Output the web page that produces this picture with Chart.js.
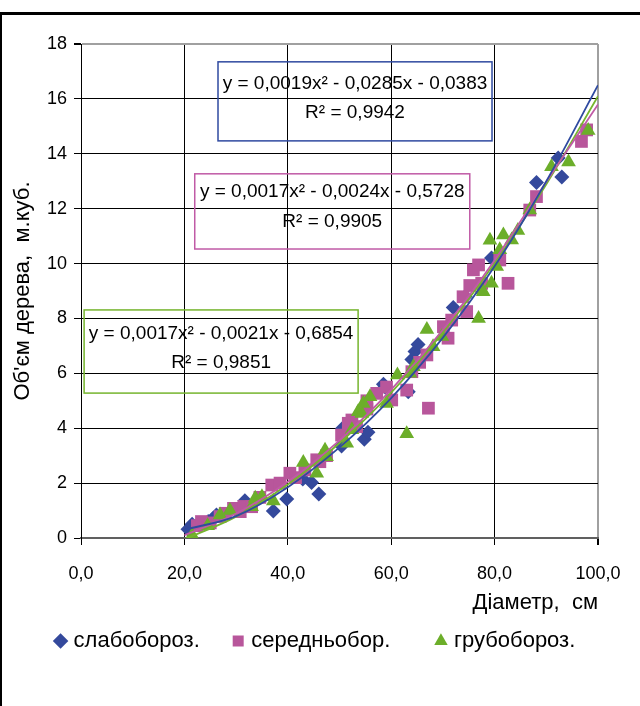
<!DOCTYPE html>
<html>
<head>
<meta charset="utf-8">
<script src="https://cdn.jsdelivr.net/npm/chart.js@4.4.1/dist/chart.umd.min.js"></script>
<style>
  html, body { margin: 0; padding: 0; background: #fff; }
  #wrap { position: relative; width: 640px; height: 706px; overflow: hidden; }
  #frame { position: absolute; left: 0; top: 12px; width: 700px; height: 720px;
           border-top: 3px solid #000; border-left: 2px solid #000; pointer-events: none; }
  canvas { position: absolute; left: 0; top: 0; }
</style>
</head>
<body>
<div id="wrap">
  <canvas id="chart" width="640" height="706"></canvas>
  <div id="frame"></div>
</div>
<script>
// DATA
const seriesNames = ['слабобороз.', 'середньобор.', 'грубобороз.'];

const slabX = [20.7, 21.5, 24.6, 25.5, 26.2, 31.7, 37.2, 39.8, 42.9, 44.6, 46.0, 50.4, 50.6, 54.8, 55.5,
               58.5, 58.8, 63.3, 64.0, 64.6, 65.2, 72.0, 74.3, 79.4, 88.1, 92.3, 93.0];
const slabY = [0.32, 0.5, 0.6, 0.7, 0.84, 1.36, 0.98, 1.42, 2.15, 2.02, 1.6, 3.35, 4.0, 3.6, 3.85,
               5.6, 5.5, 5.33, 6.5, 6.8, 7.05, 8.4, 8.8, 10.2, 12.95, 13.85, 13.15];

const seredX = [22.5, 23.3, 25.0, 26.9, 27.9, 29.5, 30.8, 31.5, 33.0, 34.6, 36.9, 38.5, 40.4, 41.5, 43.3,
                45.6, 46.2, 47.5, 50.4, 51.7, 52.4, 53.3, 55.3, 55.3, 57.2, 59.1, 60.1, 63.0, 64.0, 65.5,
                66.9, 67.2, 70.1, 71.0, 71.7, 73.9, 74.6, 75.2, 75.9, 76.9, 77.5, 81.0, 82.6, 86.8, 88.1,
                96.8, 97.8];
const seredY = [0.45, 0.6, 0.55, 0.78, 0.9, 1.08, 0.96, 1.15, 1.14, 1.48, 1.93, 2.0, 2.36, 2.2, 2.48,
                2.85, 2.78, 3.0, 3.75, 4.18, 4.3, 4.06, 4.7, 5.0, 5.27, 5.5, 5.03, 5.39, 6.06, 6.4,
                6.67, 4.73, 7.7, 7.28, 7.94, 8.79, 8.25, 9.2, 9.77, 9.95, 9.28, 10.13, 9.28, 11.95, 12.44,
                14.45, 14.87];

const grubX = [21.5, 24.5, 26.9, 28.8, 33.0, 33.7, 35.0, 37.2, 43.0, 45.6, 47.2, 47.5, 51.4, 52.4, 53.6,
               54.3, 54.6, 55.9, 59.1, 61.2, 63.0, 63.6, 64.3, 66.9, 68.1, 69.8, 76.9, 77.5, 77.8, 79.1,
               79.4, 80.4, 81.0, 81.7, 83.3, 84.5, 86.8, 91.0, 94.3, 98.1];
const grubY = [0.1, 0.45, 0.84, 1.0, 1.14, 1.45, 1.5, 1.35, 2.75, 2.36, 3.2, 2.96, 3.45, 3.94, 4.6,
               4.54, 4.9, 5.15, 4.9, 5.94, 3.8, 6.0, 6.24, 7.6, 6.97, 7.34, 8.0, 9.04, 8.97, 10.85,
               9.28, 9.89, 10.5, 11.04, 10.86, 11.2, 11.95, 13.53, 13.7, 14.85];

// trend lines
const trendX     = [20, 30, 40, 50, 60, 70, 80, 90, 100];
const trendSlabY = [0.3, 0.8, 1.85, 3.3, 5.1, 7.3, 9.9, 13.0, 16.5];
const trendSerY  = [0.1, 0.89, 2.05, 3.56, 5.41, 7.59, 10.12, 12.98, 15.8];
const trendGrubY = [-0.05, 0.78, 1.95, 3.46, 5.3, 7.49, 10.02, 12.89, 16.1];

const equations = [
  ['y = 0,0019x² - 0,0285x - 0,0383', 'R² = 0,9942'],
  ['y = 0,0017x² - 0,0024x - 0,5728', 'R² = 0,9905'],
  ['y = 0,0017x² - 0,0021x - 0,6854', 'R² = 0,9851']
];

// STYLE
const FONT = "'Liberation Sans', Arial, sans-serif";
const colors = ['#34499c', '#b8569b', '#6cae2a'];
const lineColors = ['#2f4aa0', '#c05aa6', '#76b52e'];
// equation boxes in data units: x0, x1, yTop, yBottom, line1 and line2 offsets (px)
const eqBoxes = [
  { x0: 26.5, x1: 79.5, y0: 17.35, y1: 14.47, l1: 22, l2: 51 },
  { x0: 22.0, x1: 75.2, y0: 13.27, y1: 10.53, l1: 18, l2: 48 },
  { x0: 0.6,  x1: 53.6, y0: 8.31,  y1: 5.28,  l1: 24, l2: 53 }
];
// extra room after each legend entry
const NB = '\u00a0';
const legendGap = [NB.repeat(4), NB.repeat(6), NB];

const pts = (xs, ys) => xs.map((x, i) => ({ x, y: ys[i] }));

const equationBoxes = {
  id: 'equationBoxes',
  afterDatasetsDraw(chart) {
    const { ctx, scales: { x, y } } = chart;
    ctx.save();
    ctx.font = `19px ${FONT}`;
    ctx.textAlign = 'center';
    ctx.textBaseline = 'middle';
    eqBoxes.forEach((b, i) => {
      const left = x.getPixelForValue(b.x0), right = x.getPixelForValue(b.x1);
      const top = y.getPixelForValue(b.y0), bottom = y.getPixelForValue(b.y1);
      ctx.strokeStyle = lineColors[i];
      ctx.lineWidth = 1.5;
      ctx.strokeRect(left, top, right - left, bottom - top);
      ctx.fillStyle = '#000';
      const cx = (left + right) / 2;
      ctx.fillText(equations[i][0], cx, top + b.l1);
      ctx.fillText(equations[i][1], cx, top + b.l2);
    });
    ctx.restore();
  }
};

const scatterSet = (i, data, style, radius) => ({
  label: seriesNames[i],
  data,
  pointStyle: style,
  pointRadius: radius,
  pointHoverRadius: radius,
  backgroundColor: colors[i],
  borderColor: colors[i],
  borderWidth: 0,
  showLine: false,
  order: 3 - i
});

const trendSet = (i, ys) => ({
  label: 'trend' + i,
  data: pts(trendX, ys),
  showLine: true,
  borderColor: lineColors[i],
  borderWidth: 1.8,
  pointRadius: 0,
  tension: 0.4,
  cubicInterpolationMode: 'monotone',
  order: 0
});

Chart.defaults.font.family = FONT;
Chart.defaults.color = '#000';

const chart = new Chart(document.getElementById('chart').getContext('2d'), {
  type: 'scatter',
  data: {
    datasets: [
      scatterSet(0, pts(slabX, slabY), 'rectRot', 7.5),
      scatterSet(1, pts(seredX, seredY), 'rect', 9),
      scatterSet(2, pts(grubX, grubY), 'triangle', 8.5),
      trendSet(0, trendSlabY),
      trendSet(1, trendSerY),
      trendSet(2, trendGrubY)
    ]
  },
  plugins: [equationBoxes],
  options: {
    responsive: false,
    animation: false,
    layout: { padding: { left: 0, top: 44, right: 0, bottom: 44 } },
    scales: {
      x: {
        min: 0, max: 100,
        ticks: {
          stepSize: 20,
          font: { size: 18 },
          padding: 18,
          callback: v => v.toFixed(1).replace('.', ',')
        },
        grid: {
          color: c => c.tick && c.tick.value === 100 ? '#a0a0a0' : '#000',
          lineWidth: c => c.tick && c.tick.value === 100 ? 2 : 1,
          tickLength: 7,
          tickColor: '#000'
        },
        border: { color: '#606060', width: 2 },
        title: {
          display: true, text: 'Діаметр,  см', align: 'end',
          font: { size: 22 }, padding: { top: 0, bottom: 2 }
        },
        afterFit: s => { s.height = 80; }
      },
      y: {
        min: 0, max: 18,
        ticks: { stepSize: 2, font: { size: 18 }, padding: 7 },
        grid: {
          color: c => c.tick && c.tick.value === 18 ? '#a0a0a0' : '#000',
          lineWidth: c => c.tick && c.tick.value === 18 ? 2 : 1,
          tickLength: 7,
          tickColor: '#000'
        },
        border: { color: '#000', width: 1 },
        title: {
          display: true, text: "Об'єм дерева,  м.куб.",
          font: { size: 22 }, padding: { top: 10, bottom: 0 }
        },
        afterFit: s => { s.width = 81; }
      },
      // empty right-hand axis, only keeps space beside the plot
      yRight: {
        position: 'right',
        display: true,
        ticks: { display: false },
        grid: { display: false },
        border: { display: false },
        afterFit: s => { s.width = 42; }
      }
    },
    plugins: {
      legend: {
        position: 'bottom',
        labels: {
          usePointStyle: true,
          boxHeight: 11,
          boxWidth: 4,
          padding: 12,
          font: { size: 22 },
          generateLabels: c => Chart.defaults.plugins.legend.labels.generateLabels(c)
            .filter(l => l.datasetIndex < 3)
            .map(l => ({ ...l, text: l.text + legendGap[l.datasetIndex] })),
          sort: (a, b) => a.datasetIndex - b.datasetIndex
        }
      },
      tooltip: { enabled: false }
    }
  }
});
</script>
</body>
</html>
